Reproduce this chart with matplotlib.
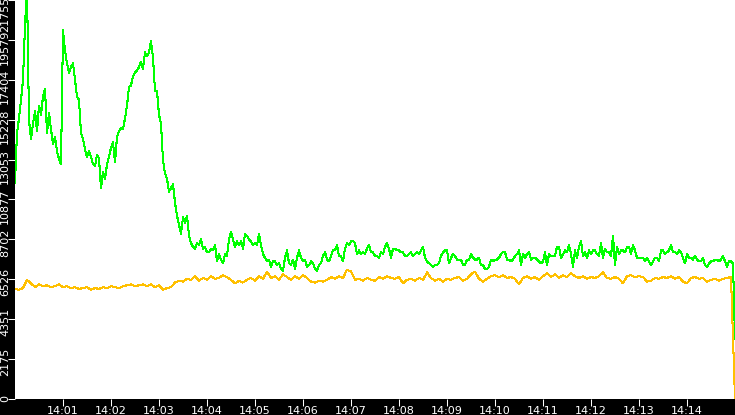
import numpy as np
import matplotlib
matplotlib.use("Agg")
import matplotlib.pyplot as plt
import matplotlib.dates as mdates
import matplotlib.transforms as mtransforms
from matplotlib.ticker import FixedLocator, FuncFormatter

# sampling: green every 2.5 s, orange every 5 s, starting 14:00:00
start = np.datetime64("2024-01-01T14:00:00")
end = np.datetime64("2024-01-01T14:15:00")
green_step_ms = 2500
orange_step_ms = 5000

green_vals = [
    11800, 14500, 15300, 16300, 17400, 20400, 22400, 15200, 14200, 15000, 15700, 14600,
    16000, 15500, 16500, 16900, 14500, 15600, 14700, 13900, 14300, 13500, 13100, 12800,
    20100, 19000, 18300, 17800, 18100, 18300, 17400, 16500, 16300, 14500, 14200, 13600,
    13200, 13500, 13200, 12800, 12700, 13300, 13100, 11500, 12400, 12000, 12800, 13200,
    13700, 14000, 12900, 14300, 14600, 14800, 14700, 15300, 16000, 17000, 17100, 17600,
    17800, 17900, 18100, 18400, 18000, 18900, 18700, 18900, 19500, 18600, 16800, 16800,
    15500, 15000, 13000, 12300, 12000, 11300, 11500, 11700, 10700, 10000,
    9500, 9000, 9900, 9600, 10000, 8900, 8500, 8300, 8200, 8500, 8400, 8700,
    8200, 8300, 8000, 8000, 8200, 8100, 8400, 7500, 7900, 7600, 7400, 7900,
    7800, 8700, 9100, 8700, 8300, 8600, 8400, 8600, 8200, 9000, 8900, 8700,
    8600, 8400, 8500, 8400, 9000, 8400, 7900, 7700, 7500, 7600, 7200, 7500,
    7500, 7300, 7400, 7100, 7000, 7700, 8100, 7400, 7300, 7600, 7100, 7700, 8100,
    7700, 7500, 7600, 7200, 7300, 7500, 7400, 7100, 7000, 7300, 7400, 7800,
    8000, 7600, 7500, 7800, 8100, 8100, 8400, 7800, 7800, 7500, 8200, 8500,
    8400, 8600, 8600, 8500, 7900, 8100, 7900, 8000, 7900, 8200, 8400, 8000,
    8000, 7800, 7800, 7700, 8000, 7900, 8300, 8500, 8200, 7700, 8200, 8200,
    8100, 8100, 8000, 8000, 7800, 7800, 7900, 8000, 7800, 7900, 8000, 7900,
    8100, 8300, 7700, 7500, 7400, 7300, 7200, 7300, 7300, 7400, 7800, 8000,
    8100, 8100, 7400,
    7700, 7900, 7800, 7600, 7600, 7600, 7300, 7300, 7600, 7600, 7900, 7700,
    7600, 7600, 7700, 7300, 7300, 7100, 7100, 7200, 7600, 7500, 7600, 7600,
    7700, 7900, 8000, 8000, 7600, 7600, 7500, 7600, 7800, 7900, 8100, 7300,
    7900, 7700, 7900, 8000, 7600, 7700, 7700, 7600, 7500, 7400, 7500, 8000,
    7300, 7900, 7800, 7800, 7800, 8300, 8300, 7700, 7900, 8100, 8000, 8400,
    7900, 7200, 8100, 7700, 8300, 8600, 7800, 8000, 7700, 8100, 7900, 8100,
    8100, 7900, 7800,
    8500, 7700, 8200, 8000, 8000, 7800, 8900, 7300, 8300, 7900, 8100, 8100,
    8000, 8300, 8300, 7900, 8400, 8100, 7700, 7700, 7700, 7700, 7500, 7700,
    7500, 7300, 7500, 7700, 7700, 7500, 8100, 8100, 7900, 8000, 8100, 8400,
    8000, 8000, 7900, 8100, 8000, 7700, 7400, 7900, 7700, 7700, 7600, 7800,
    7600, 7500, 7500, 7700, 7300, 7200, 7400, 7500, 7500, 7600, 7600, 7500,
    7600, 7800, 7500, 7200, 7500, 7500, 7400, 3300,
]

orange_vals = [
    6000, 5950, 6050, 6500, 6300, 6100, 6250, 6150, 6200, 6100, 6150, 6250,
    6100, 6150, 6050, 6100, 6000, 6050, 6100, 5950, 6050, 6000, 6100, 6050,
    6150, 6100, 6050, 6150, 6200, 6250, 6150, 6200, 6250, 6150, 6250, 6100,
    6200, 5950, 6050, 6100, 6350, 6450, 6400, 6550, 6500, 6700, 6450, 6600,
    6500, 6700, 6550, 6600, 6750, 6650, 6500, 6300, 6450, 6350, 6500, 6600,
    6450, 6700, 6550, 6950, 6600, 6700, 6500, 6800, 6650, 6500, 6700, 6550,
    6750, 6600, 6400, 6350, 6450, 6400, 6500, 6650, 6550, 6700, 6600, 7050,
    6950, 6500, 6550, 6450, 6600, 6500, 6450, 6650, 6550, 6700, 6600, 6550,
    6650, 6300, 6500, 6550, 6450, 6600, 6500, 6900, 6600, 6450, 6550, 6400,
    6550, 6500, 6600, 6650, 6450, 6550, 6800, 6950, 6550, 6400, 6550, 6700,
    6750, 6650, 6750, 6600, 6650, 6550, 6250, 6600, 6700, 6550, 6650, 6500,
    6700, 6850, 6650, 6800, 6600, 6750, 6650, 6850, 6700, 6600, 6700, 6550,
    6650, 6600, 6700, 6900, 6600, 6550, 6650, 6550, 6300, 6700, 6750, 6650,
    6700, 6650, 6400, 6450, 6600, 6550, 6650, 6600, 6700, 6550, 6650, 6400,
    6300, 6600, 6650, 6550, 6600, 6400, 6500, 6550, 6450, 6550, 6600, 6650,
    0,
]

y_max = 21755
y_ticks = np.arange(11) * y_max / 10

green_t = start + np.arange(len(green_vals)) * np.timedelta64(green_step_ms, "ms")
orange_t = start + np.arange(len(orange_vals)) * np.timedelta64(orange_step_ms, "ms")

fig = plt.figure(figsize=(7.35, 4.15), dpi=100, facecolor="black")
ax = fig.add_axes([15 / 735, 16 / 415, 720 / 735, 399 / 415])
ax.set_facecolor("white")

ax.plot(orange_t, orange_vals, color="#ffc000", lw=0.75, antialiased=False)
ax.plot(green_t, green_vals, color="#00ff00", lw=0.75, antialiased=False)

ax.set_xlim(start, end)
ax.set_ylim(0, y_max)

ax.xaxis.set_major_locator(mdates.MinuteLocator(byminute=range(1, 15)))
ax.xaxis.set_major_formatter(mdates.DateFormatter("%H:%M"))
ax.yaxis.set_major_locator(FixedLocator(y_ticks))
ax.yaxis.set_major_formatter(FuncFormatter(lambda v, p: str(int(v))))

for s in ax.spines.values():
    s.set_visible(False)

ax.tick_params(axis="both", colors="white", labelcolor="white", labelsize=8,
               length=5, width=0.75, direction="out")
ax.tick_params(axis="x", pad=0.3)
ax.tick_params(axis="y", pad=-1.4)

fig.canvas.draw()
for lab in ax.get_yticklabels():
    txt = lab.get_text()
    lab.set_rotation(90)
    lab.set_va("center")
    if txt == str(y_max):
        off = 14
    else:
        off = {1: -1, 4: 3, 5: 7}.get(len(txt), 3)
    lab.set_transform(lab.get_transform() +
                      mtransforms.ScaledTranslation(0, -off / 100, fig.dpi_scale_trans))

fig.savefig("out.png", dpi=100, facecolor="black")
